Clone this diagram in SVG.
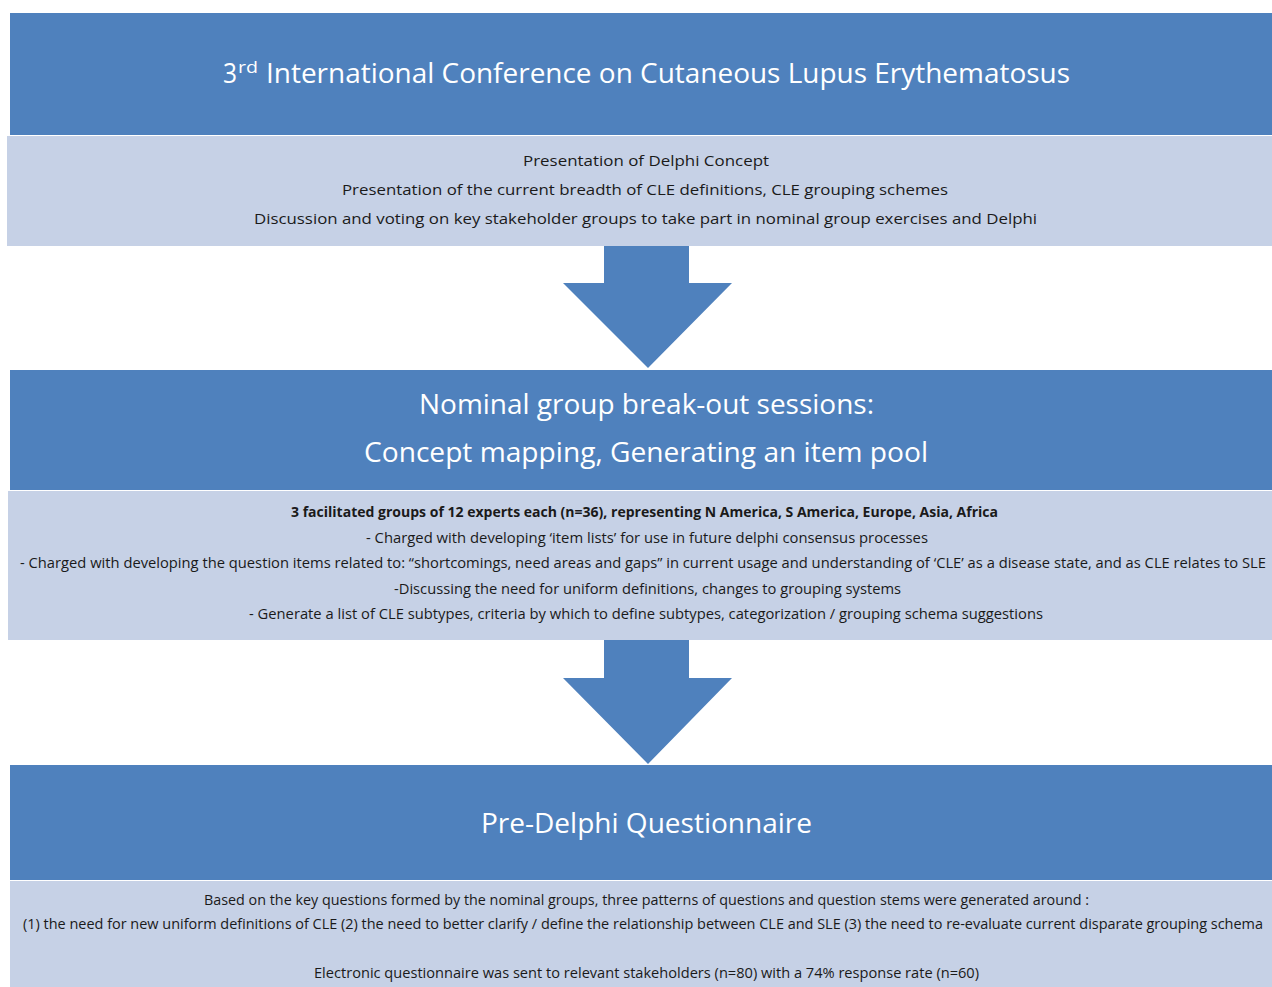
<svg xmlns="http://www.w3.org/2000/svg" width="1272" height="987" viewBox="0 0 1272 987">
<style>
.hd{fill:#4f81bd}
.lt{fill:#c6d1e6}
.arr{fill:#4f81bd}
.t{font-family:"Open Sans","Noto Sans","Liberation Sans",sans-serif;fill:#fff;font-size:28px}
.b{font-family:"Open Sans","Noto Sans","Liberation Sans",sans-serif;fill:#1a1a1a;font-size:15px}
.n{font-size:13.6px}
</style>
<rect width="1272" height="987" fill="#fff"/>
<g id="connectors">
<polygon class="arr" points="604,246 689,246 689,283 732,283 648,368 563,283 604,283"/>
<polygon class="arr" points="604,640 689,640 689,678 732,678 648,764 563,678 604,678"/>
</g>
<g id="node1">
<rect class="hd" x="10" y="13" width="1262" height="122"/>
<rect class="lt" x="7" y="136" width="1265" height="110"/>
<text class="t" x="223" y="83" textLength="14" lengthAdjust="spacingAndGlyphs">3</text>
<text class="t" x="238" y="73" style="font-size:17px" textLength="20" lengthAdjust="spacingAndGlyphs">rd</text>
<text class="t" x="266" y="83" textLength="804" lengthAdjust="spacingAndGlyphs">International Conference on Cutaneous Lupus Erythematosus</text>
<text class="b" x="523" y="166" textLength="246" lengthAdjust="spacingAndGlyphs">Presentation of Delphi Concept</text>
<text class="b" x="342" y="195" textLength="606" lengthAdjust="spacingAndGlyphs">Presentation of the current breadth of CLE definitions, CLE grouping schemes</text>
<text class="b" x="254" y="224" textLength="783" lengthAdjust="spacingAndGlyphs">Discussion and voting on key stakeholder groups to take part in nominal group exercises and Delphi</text>
</g>
<g id="node2">
<rect class="hd" x="10" y="370" width="1262" height="120"/>
<rect class="lt" x="8" y="491" width="1264" height="149"/>
<text class="t" x="419" y="414" textLength="455" lengthAdjust="spacingAndGlyphs">Nominal group break-out sessions:</text>
<text class="t" x="364" y="462" textLength="564" lengthAdjust="spacingAndGlyphs">Concept mapping, Generating an item pool</text>
<text class="b" x="291" y="517" style="font-weight:bold" textLength="707" lengthAdjust="spacingAndGlyphs">3 facilitated groups of 12 experts each (n=36), representing N America, S America, Europe, Asia, Africa</text>
<text class="b" x="366" y="543" textLength="562" lengthAdjust="spacingAndGlyphs">- Charged with developing ‘item lists’ for use in future delphi consensus processes</text>
<text class="b n" x="20" y="568" textLength="1246" lengthAdjust="spacingAndGlyphs">- Charged with developing the question items related to: “shortcomings, need areas and gaps” in current usage and understanding of ‘CLE’ as a disease state, and as CLE relates to SLE</text>
<text class="b" x="394" y="594" textLength="507" lengthAdjust="spacingAndGlyphs">-Discussing the need for uniform definitions, changes to grouping systems</text>
<text class="b" x="249" y="619" textLength="794" lengthAdjust="spacingAndGlyphs">- Generate a list of CLE subtypes, criteria by which to define subtypes, categorization / grouping schema suggestions</text>
</g>
<g id="node3">
<rect class="hd" x="10" y="765" width="1262" height="115"/>
<rect class="lt" x="10" y="881" width="1262" height="106"/>
<text class="t" x="481" y="833" textLength="331" lengthAdjust="spacingAndGlyphs">Pre-Delphi Questionnaire</text>
<text class="b" x="204" y="905" textLength="885" lengthAdjust="spacingAndGlyphs">Based on the key questions formed by the nominal groups, three patterns of questions and question stems were generated around :</text>
<text class="b n" x="23" y="929" textLength="1240" lengthAdjust="spacingAndGlyphs">(1) the need for new uniform definitions of CLE (2) the need to better clarify / define the relationship between CLE and SLE  (3) the need to re-evaluate current disparate grouping schema</text>
<text class="b" x="314" y="978" textLength="665" lengthAdjust="spacingAndGlyphs">Electronic questionnaire was sent to relevant stakeholders (n=80) with a  74% response rate (n=60)</text>
</g>
</svg>
